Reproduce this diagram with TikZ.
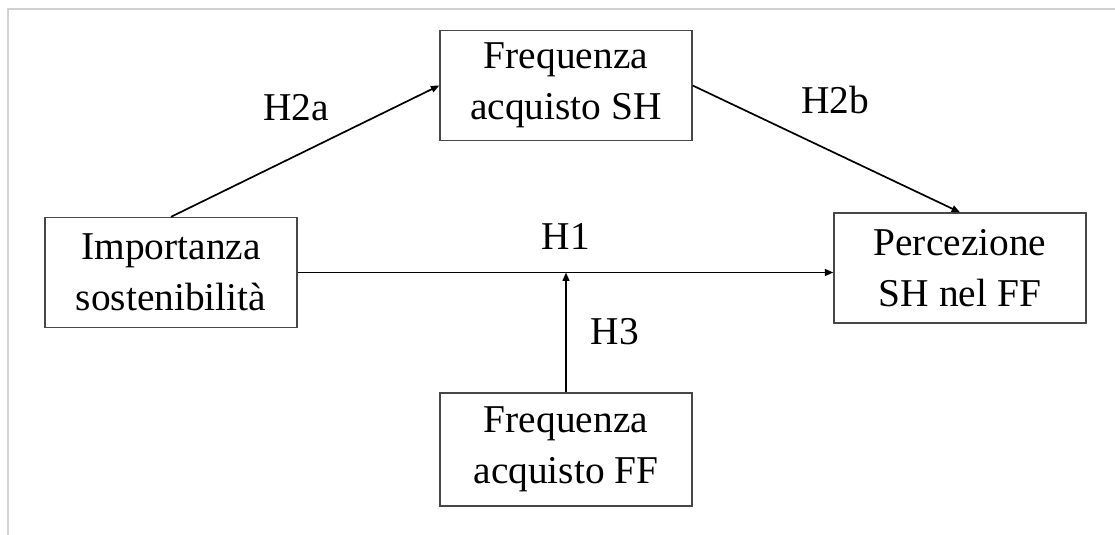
\documentclass[tikz,border=0pt]{standalone}
\usepackage{fontspec}
\setmainfont{Liberation Serif}
\usetikzlibrary{arrows.meta}
\begin{document}
\begin{tikzpicture}[x=0.5pt,y=-0.5pt,
  every node/.style={font=\fontsize{19.7}{25.5}\selectfont},
  box/.style={draw=black!72, line width=0.65pt, minimum width=126pt, minimum height=55pt, inner sep=0pt, align=center, fill=white},
  lbl/.style={inner sep=0pt},
  conn/.style={line width=0.85pt, -{Triangle[length=4.2pt,width=3.4pt]}},
  frameline/.style={draw=black!18, line width=0.8pt}]
\useasboundingbox (0,0) rectangle (1115,535);
\draw[frameline] (8,535) -- (8,9) -- (1115,9);
\node[box] (sh) at (566,85.5) {Frequenza\\acquisto SH};
\node[box] (imp) at (171,272.5) {Importanza\\sostenibilità};
\node[box] (perc) at (960,268) {Percezione\\SH nel FF};
\node[box, minimum height=56.5pt] (ff) at (566,449.5) {Frequenza\\acquisto FF};
\coordinate (h1end) at (imp.east -| perc.west);
\coordinate (h3end) at (ff.north |- imp.east);
\draw[conn] (imp.east) -- (h1end);
\draw[conn] (ff.north) -- (h3end);
\draw[conn] (imp.north) -- (sh.west);
\draw[conn] (sh.east) -- (perc.north);
\node[lbl] (lh2a) at (296,108) {H2a};
\node[lbl] (lh2b) at (835,100) {H2b};
\node[lbl] (lh1) at (566,236) {H1};
\node[lbl] (lh3) at (615,332) {H3};
\end{tikzpicture}
\end{document}
